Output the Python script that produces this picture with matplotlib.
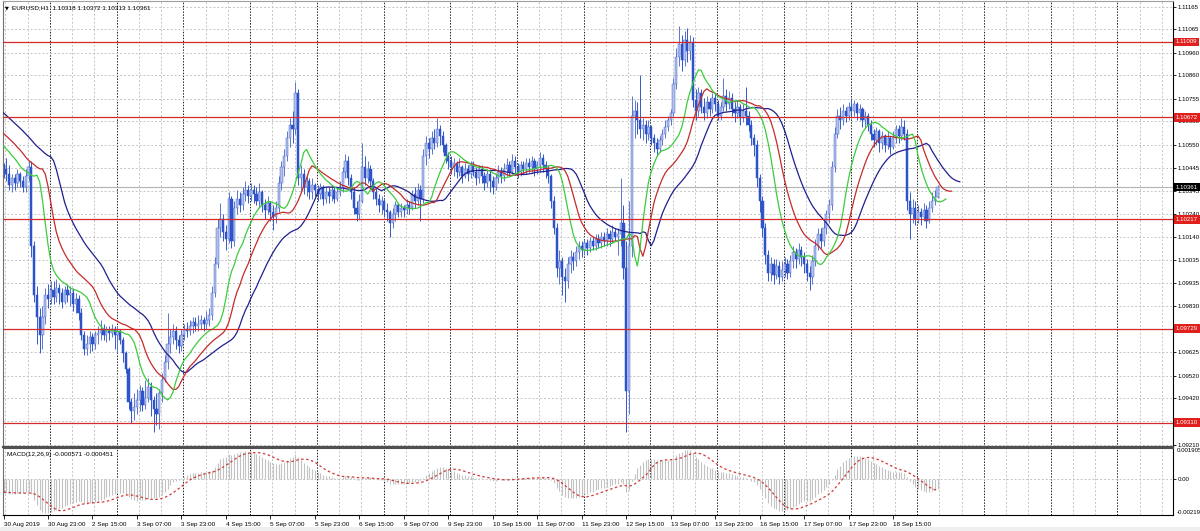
import numpy as np
import pandas as pd
import matplotlib
matplotlib.use('Agg')
import matplotlib.pyplot as plt

plt.rcParams['font.family'] = ['Liberation Sans', 'DejaVu Sans']

# EURUSD H1, 30 Aug 2019 07:00 .. 19 Sep 2019 07:00 (weekends skipped)
close = [
    1.1044, 1.1042, 1.1037, 1.1040, 1.1038, 1.1042, 1.1039, 1.1036, 1.1041, 1.1045,
    1.1010, 1.0988, 1.0978, 1.0970, 1.0978, 1.0988, 1.0986, 1.0990, 1.0987, 1.0991,
    1.0989, 1.0985, 1.0990, 1.0988, 1.0989, 1.0984, 1.0986, 1.0980, 1.0970, 1.0964,
    1.0966, 1.0969, 1.0966, 1.0970, 1.0971, 1.0973, 1.0970, 1.0972, 1.0971, 1.0973,
    1.0970, 1.0972, 1.0968, 1.0962, 1.0955, 1.0940, 1.0936, 1.0938, 1.0941, 1.0945,
    1.0939, 1.0942, 1.0947, 1.0941, 1.0937, 1.0935, 1.0944, 1.0950, 1.0958, 1.0966,
    1.0969, 1.0972, 1.0968, 1.0965, 1.0970, 1.0973, 1.0972, 1.0974, 1.0976, 1.0974,
    1.0975, 1.0977, 1.0975, 1.0977, 1.0979, 1.0989, 1.1002, 1.1018, 1.1022, 1.1016,
    1.1013, 1.1031, 1.1012, 1.1027, 1.1031, 1.1028, 1.1033, 1.1035, 1.1032, 1.1035,
    1.1033, 1.1030, 1.1034, 1.1028, 1.1026, 1.1029, 1.1025, 1.1023, 1.1027, 1.1038,
    1.1045, 1.1050, 1.1058, 1.1064, 1.1062, 1.1078, 1.1040, 1.1042, 1.1036, 1.1039,
    1.1034, 1.1037, 1.1035, 1.1033, 1.1036, 1.1031, 1.1034, 1.1032, 1.1035, 1.1031,
    1.1034, 1.1036, 1.1043, 1.1048, 1.1040, 1.1034, 1.1027, 1.1024, 1.1030, 1.1045,
    1.1040, 1.1044, 1.1039, 1.1034, 1.1031, 1.1028, 1.1030, 1.1026, 1.1025, 1.1020,
    1.1024, 1.1028, 1.1025, 1.1027, 1.1026, 1.1028, 1.1027, 1.1033, 1.1030, 1.1035,
    1.1031, 1.1050, 1.1056, 1.1053, 1.1058, 1.1056, 1.1062, 1.1059, 1.1055, 1.1050,
    1.1048, 1.1045, 1.1047, 1.1043, 1.1045, 1.1041, 1.1044, 1.1042, 1.1046, 1.1043,
    1.1040, 1.1044, 1.1041, 1.1038, 1.1042, 1.1039, 1.1036, 1.1040, 1.1043, 1.1041,
    1.1044, 1.1046, 1.1043, 1.1048, 1.1045, 1.1043, 1.1046, 1.1044, 1.1047, 1.1045,
    1.1048, 1.1044, 1.1046, 1.1049, 1.1046, 1.1044, 1.1041, 1.1030, 1.1018, 1.1000,
    1.1003, 1.0996, 1.0994, 1.1002, 1.1005, 1.1003, 1.1007, 1.1010, 1.1008, 1.1011,
    1.1009, 1.1012, 1.1010, 1.1013, 1.1011, 1.1014, 1.1012, 1.1015, 1.1013, 1.1016,
    1.1014, 1.1015, 1.1020, 1.1000, 1.0945, 1.1010, 1.1068, 1.1070, 1.1066, 1.1062,
    1.1064, 1.1060, 1.1063, 1.1058, 1.1056, 1.1053, 1.1057, 1.1060, 1.1063, 1.1066,
    1.1069, 1.1082, 1.1094, 1.1100, 1.1093, 1.1102, 1.1097, 1.1101, 1.1075, 1.1070,
    1.1078, 1.1072, 1.1069, 1.1074, 1.1071, 1.1076, 1.1073, 1.1068, 1.1072, 1.1077,
    1.1073, 1.1076, 1.1071, 1.1069, 1.1072, 1.1067, 1.1070, 1.1068, 1.1064, 1.1058,
    1.1055, 1.1040, 1.1030, 1.1018, 1.1006, 1.0998, 1.1002, 1.0997, 1.1001, 1.0996,
    1.0999, 1.1002, 1.0998, 1.1003, 1.1007, 1.1004, 1.1008, 1.1005, 1.1002, 1.0998,
    1.0996, 1.1003, 1.1010, 1.1015, 1.1012, 1.1018, 1.1024, 1.1028, 1.1045, 1.1060,
    1.1068, 1.1066, 1.1070, 1.1068, 1.1072, 1.1070, 1.1073, 1.1069, 1.1071, 1.1066,
    1.1068, 1.1064, 1.1060, 1.1057, 1.1061, 1.1056, 1.1059, 1.1055, 1.1058, 1.1054,
    1.1058, 1.1062, 1.1059, 1.1063, 1.1060, 1.1030, 1.1024, 1.1027, 1.1022, 1.1025,
    1.1023, 1.1026, 1.1021, 1.1027, 1.1030, 1.10318, 1.10361,
]
high = [
    1.1047, 1.1049, 1.1046, 1.1042, 1.1042, 1.1044, 1.1043, 1.1041, 1.1044, 1.1048,
    1.1048, 1.1012, 1.0992, 1.0982, 1.0983, 1.0991, 1.0993, 1.0994, 1.0994, 1.0995,
    1.0993, 1.0991, 1.0992, 1.0993, 1.0992, 1.0991, 1.0989, 1.0988, 1.0982, 1.0972,
    1.0970, 1.0972, 1.0971, 1.0972, 1.0974, 1.0977, 1.0975, 1.0974, 1.0974, 1.0975,
    1.0974, 1.0974, 1.0973, 1.0969, 1.0963, 1.0956, 1.0942, 1.0944, 1.0946, 1.0948,
    1.0947, 1.0950, 1.0951, 1.0949, 1.0943, 1.0944, 1.0946, 1.0953, 1.0961, 1.0980,
    1.0973, 1.0975, 1.0974, 1.0970, 1.0973, 1.0975, 1.0976, 1.0977, 1.0978, 1.0978,
    1.0979, 1.0979, 1.0978, 1.0981, 1.0982, 1.0992, 1.1005, 1.1022, 1.1029, 1.1024,
    1.1019, 1.1034, 1.1032, 1.1030, 1.1035, 1.1034, 1.1036, 1.1039, 1.1037, 1.1038,
    1.1037, 1.1036, 1.1038, 1.1035, 1.1031, 1.1032, 1.1030, 1.1028, 1.1030, 1.1041,
    1.1048, 1.1053, 1.1061, 1.1067, 1.1070, 1.1083, 1.1080, 1.1046, 1.1044, 1.1042,
    1.1040, 1.1040, 1.1038, 1.1037, 1.1038, 1.1037, 1.1036, 1.1036, 1.1037, 1.1036,
    1.1036, 1.1039, 1.1045, 1.1051, 1.1050, 1.1042, 1.1036, 1.1030, 1.1033, 1.1056,
    1.1050, 1.1048, 1.1046, 1.1040, 1.1036, 1.1033, 1.1032, 1.1031, 1.1029, 1.1026,
    1.1027, 1.1030, 1.1029, 1.1029, 1.1028, 1.1031, 1.1030, 1.1035, 1.1036, 1.1038,
    1.1037, 1.1053, 1.1059, 1.1058, 1.1061, 1.1062, 1.1067, 1.1064, 1.1061, 1.1056,
    1.1052, 1.1050, 1.1049, 1.1048, 1.1049, 1.1046, 1.1047, 1.1046, 1.1048, 1.1048,
    1.1045, 1.1046, 1.1046, 1.1043, 1.1044, 1.1044, 1.1041, 1.1042, 1.1046, 1.1045,
    1.1047, 1.1049, 1.1048, 1.1051, 1.1050, 1.1047, 1.1048, 1.1048, 1.1049, 1.1049,
    1.1050, 1.1049, 1.1048, 1.1052, 1.1051, 1.1048, 1.1046, 1.1042, 1.1032, 1.1020,
    1.1008, 1.1005, 1.1000, 1.1005, 1.1008, 1.1007, 1.1010, 1.1012, 1.1012, 1.1013,
    1.1013, 1.1014, 1.1014, 1.1015, 1.1015, 1.1016, 1.1016, 1.1018, 1.1017, 1.1019,
    1.1018, 1.1018, 1.1040, 1.1028, 1.1012, 1.1030, 1.1077, 1.1075, 1.1074, 1.1086,
    1.1067, 1.1066, 1.1066, 1.1064, 1.1060, 1.1058, 1.1059, 1.1062, 1.1066, 1.1068,
    1.1071, 1.1085, 1.1098, 1.1108, 1.1104, 1.1106, 1.1107, 1.1104, 1.1103, 1.1080,
    1.1081, 1.1080, 1.1076, 1.1077, 1.1076, 1.1078, 1.1078, 1.1075, 1.1074, 1.1085,
    1.1080, 1.1079, 1.1078, 1.1074, 1.1075, 1.1073, 1.1073, 1.1081, 1.1070, 1.1066,
    1.1060, 1.1057, 1.1042, 1.1032, 1.1020, 1.1008, 1.1005, 1.1004, 1.1004, 1.1003,
    1.1003, 1.1005, 1.1004, 1.1006, 1.1010, 1.1009, 1.1011, 1.1010, 1.1007, 1.1004,
    1.1001, 1.1006, 1.1013, 1.1018, 1.1018, 1.1021, 1.1026, 1.1031, 1.1048, 1.1063,
    1.1071, 1.1072, 1.1073, 1.1072, 1.1074, 1.1076, 1.1075, 1.1074, 1.1073, 1.1072,
    1.1070, 1.1069, 1.1066, 1.1062, 1.1063, 1.1062, 1.1061, 1.1060, 1.1061, 1.1059,
    1.1061, 1.1064, 1.1064, 1.1067, 1.1066, 1.1062, 1.1034, 1.1031, 1.1030, 1.1028,
    1.1027, 1.1029, 1.1028, 1.1030, 1.1034, 1.1035, 1.10372,
]
low = [
    1.1040, 1.1039, 1.1035, 1.1034, 1.1035, 1.1036, 1.1036, 1.1034, 1.1034, 1.1039,
    1.1005, 1.0985, 1.0966, 1.0962, 1.0964, 1.0975, 1.0982, 1.0984, 1.0984, 1.0985,
    1.0984, 1.0982, 1.0984, 1.0985, 1.0983, 1.0981, 1.0980, 1.0977, 1.0968, 1.0961,
    1.0961, 1.0962, 1.0963, 1.0964, 1.0966, 1.0968, 1.0968, 1.0967, 1.0968, 1.0969,
    1.0964, 1.0962, 1.0966, 1.0958, 1.0953, 1.0937, 1.0931, 1.0932, 1.0935, 1.0936,
    1.0936, 1.0937, 1.0940, 1.0934, 1.0927, 1.0930, 1.0928, 1.0940, 1.0949, 1.0955,
    1.0962, 1.0966, 1.0964, 1.0962, 1.0963, 1.0968, 1.0969, 1.0970, 1.0971, 1.0972,
    1.0972, 1.0973, 1.0972, 1.0973, 1.0974, 1.0977, 1.0987, 1.1000, 1.1014, 1.1012,
    1.1008, 1.1011, 1.1009, 1.1010, 1.1024, 1.1025, 1.1026, 1.1030, 1.1029, 1.1030,
    1.1029, 1.1028, 1.1027, 1.1025, 1.1022, 1.1024, 1.1021, 1.1017, 1.1020, 1.1025,
    1.1035, 1.1041, 1.1048, 1.1054, 1.1056, 1.1060, 1.1037, 1.1034, 1.1033, 1.1032,
    1.1031, 1.1031, 1.1032, 1.1030, 1.1031, 1.1028, 1.1029, 1.1029, 1.1030, 1.1029,
    1.1030, 1.1032, 1.1034, 1.1040, 1.1037, 1.1031, 1.1024, 1.1021, 1.1022, 1.1029,
    1.1037, 1.1038, 1.1036, 1.1031, 1.1028, 1.1025, 1.1024, 1.1023, 1.1021, 1.1014,
    1.1018, 1.1021, 1.1023, 1.1023, 1.1023, 1.1024, 1.1024, 1.1026, 1.1027, 1.1028,
    1.1021, 1.1029, 1.1046, 1.1049, 1.1051, 1.1053, 1.1054, 1.1055, 1.1052, 1.1047,
    1.1044, 1.1042, 1.1041, 1.1040, 1.1041, 1.1038, 1.1040, 1.1039, 1.1040, 1.1041,
    1.1037, 1.1038, 1.1038, 1.1035, 1.1036, 1.1034, 1.1033, 1.1035, 1.1038, 1.1038,
    1.1039, 1.1041, 1.1041, 1.1042, 1.1042, 1.1040, 1.1041, 1.1042, 1.1042, 1.1043,
    1.1043, 1.1041, 1.1042, 1.1043, 1.1043, 1.1040, 1.1038, 1.1027, 1.1015, 1.0996,
    1.0993, 1.0988, 1.0985, 1.0991, 1.0998, 1.0999, 1.1001, 1.1004, 1.1005, 1.1006,
    1.1006, 1.1007, 1.1008, 1.1008, 1.1009, 1.1009, 1.1010, 1.1010, 1.1010, 1.1011,
    1.1012, 1.1006, 1.1010, 1.0995, 1.0927, 1.0935, 1.1005, 1.1058, 1.1060, 1.1058,
    1.1057, 1.1056, 1.1057, 1.1055, 1.1052, 1.1050, 1.1052, 1.1055, 1.1058, 1.1061,
    1.1064, 1.1068, 1.1080, 1.1090, 1.1088, 1.1090, 1.1092, 1.1093, 1.1072, 1.1066,
    1.1068, 1.1069, 1.1066, 1.1067, 1.1068, 1.1069, 1.1070, 1.1066, 1.1066, 1.1070,
    1.1070, 1.1071, 1.1068, 1.1065, 1.1067, 1.1064, 1.1065, 1.1064, 1.1061, 1.1055,
    1.1050, 1.1036, 1.1025, 1.1014, 1.1002, 1.0994, 1.0994, 1.0993, 1.0995, 1.0993,
    1.0994, 1.0996, 1.0995, 1.0996, 1.1000, 1.1000, 1.1002, 1.1001, 1.0998, 1.0994,
    1.0990, 1.0993, 1.1001, 1.1008, 1.1009, 1.1010, 1.1015, 1.1020, 1.1026, 1.1043,
    1.1058, 1.1062, 1.1064, 1.1065, 1.1066, 1.1067, 1.1068, 1.1066, 1.1066, 1.1063,
    1.1063, 1.1061, 1.1057, 1.1054, 1.1055, 1.1052, 1.1053, 1.1052, 1.1053, 1.1051,
    1.1053, 1.1056, 1.1056, 1.1057, 1.1057, 1.1026, 1.1013, 1.1020, 1.1019, 1.1020,
    1.1019, 1.1021, 1.1018, 1.1020, 1.1025, 1.1028, 1.10313,
]
first_open = 1.1046

# closes of the bars just left of the window (only feed the indicators)
pre_close = [1.1074, 1.1073, 1.1071, 1.1070, 1.1069, 1.1069, 1.1067, 1.1066,
             1.1064, 1.1064, 1.1062, 1.1061, 1.1060, 1.1058, 1.1058, 1.1057,
             1.1055, 1.1055, 1.1053, 1.1052, 1.1051, 1.1050, 1.1048, 1.1047]
jaw_seed, teeth_seed, lips_seed = 1.1089, 1.1083, 1.1080
ema12_seed, ema26_seed = 1.1081, 1.1089

levels = [1.11009, 1.10672, 1.10217, 1.09729, 1.09310]
last_price = 1.10361
price_ticks = [1.09210, 1.09315, 1.09420, 1.09520, 1.09625, 1.09730, 1.09830,
               1.09935, 1.10035, 1.10140, 1.10240, 1.10345, 1.10445, 1.10550,
               1.10655, 1.10755, 1.10860, 1.10960, 1.11065, 1.11165]
macd_top, macd_bottom = 0.001905, -0.00219
macd_text = 'MACD(12,26,9) -0.000571 -0.000451'

times = pd.date_range('2019-08-30 07:00', '2019-09-19 07:00', freq='h')
times = times[times.dayofweek < 5]

c = np.array(close); h = np.array(high); l = np.array(low)
o = np.r_[first_open, c[:-1]]
x = np.arange(len(c))
up = c >= o


def smma(v, n, s):
    out = np.empty(len(v))
    for k, p in enumerate(v):
        s = (s * (n - 1) + p) / n
        out[k] = s
    return out


def ema(v, n, s):
    a = 2.0 / (n + 1)
    out = np.empty(len(v))
    for k, p in enumerate(v):
        s = s + a * (p - s)
        out[k] = s
    return out


xa = np.arange(-len(pre_close), len(c))
med = np.r_[pre_close, (h + l) / 2]
allc = np.r_[pre_close, c]
jaw = smma(med, 13, jaw_seed)
teeth = smma(med, 8, teeth_seed)
lips = smma(med, 5, lips_seed)
macd = ema(allc, 12, ema12_seed) - ema(allc, 26, ema26_seed)
signal = pd.Series(macd).rolling(9, min_periods=1).mean().values
vis = xa >= 0

W, H = 1200, 531
fig = plt.figure(figsize=(12, 5.31), dpi=100)
ax = fig.add_axes([2.5 / W, 1 - 447 / H, 1170.5 / W, 446 / H])
am = fig.add_axes([2.5 / W, 1 - 515 / H, 1170.5 / W, 67 / H], sharex=ax)

xmin, xmax = -0.36, 420.7
ax.set_xlim(xmin, xmax)
ax.set_ylim(1.092011, 1.11192)
am.set_ylim(macd_bottom, macd_top)

grid = dict(color='#c4c4c4', lw=0.7, ls=(0, (2, 2)), zorder=0)
sep = dict(color='#202020', lw=0.7, ls=(0, (1.5, 1.5)), zorder=0)
k = 0
while 0.7 + 8 * k < xmax:
    gx = 0.7 + 8 * k
    st = sep if (k - 2) % 3 == 0 and k >= 2 else grid
    ax.axvline(gx, **st)
    am.axvline(gx, **st)
    k += 1
for p in price_ticks:
    ax.axhline(p, **grid)
am.axhline(0, **grid)

ax.axhline(last_price, color='#b4b4b4', lw=0.8, zorder=1)

bull, bear = '#b3c1ea', '#2f55cc'
ax.vlines(x[up], l[up], h[up], color='#5a75cf', lw=0.7, zorder=2)
ax.vlines(x[~up], l[~up], h[~up], color='#3358cc', lw=0.7, zorder=2)
body = np.maximum(np.abs(c - o), 0.00003)
bot = np.minimum(o, c)
ax.bar(x[up], body[up], bottom=bot[up], width=0.8, color=bull,
       edgecolor='#4a68cc', lw=0.35, zorder=2)
ax.bar(x[~up], body[~up], bottom=bot[~up], width=0.8, color=bear,
       edgecolor='#2a4fc4', lw=0.35, zorder=2)

ax.plot(xa + 8, jaw, color='#1f1f8f', lw=0.9, zorder=3)
ax.plot(xa + 5, teeth, color='#c42b2b', lw=0.9, zorder=3)
ax.plot(xa + 3, lips, color='#3ccc3c', lw=0.9, zorder=3)

for lv in levels:
    ax.axhline(lv, color='#d42a2a', lw=0.9, zorder=4)

am.vlines(xa[vis], 0, macd[vis], color='#c2c2c2', lw=0.8, zorder=2)
am.plot(xa[vis], signal[vis], color='#d03a3a', lw=0.9, ls=(0, (2, 2)), zorder=3)

fs = 4.6
for a in (ax, am):
    a.yaxis.tick_right()
    a.tick_params(axis='y', length=2, width=0.6, labelsize=4.4, pad=1.2, colors='black')
    for s in a.spines.values():
        s.set_linewidth(0.8)
    a.spines['right'].set_color('black')
ax.spines['left'].set_color('#707070')
ax.spines['top'].set_color('#a0a0a0')
ax.spines['bottom'].set_color('#505050')
ax.spines['bottom'].set_linewidth(1.6)
am.spines['top'].set_color('#505050')
am.spines['left'].set_color('#707070')
am.spines['bottom'].set_color('black')

ax.set_yticks(price_ticks)
ax.set_yticklabels([f'{p:.5f}' for p in price_ticks])
ax.tick_params(axis='x', bottom=False, labelbottom=False)

am.set_yticks([0])
am.set_yticklabels(['0.00'])
ytr = am.get_yaxis_transform()
am.text(1.003, macd_top, f'{macd_top:.6f}', transform=ytr, fontsize=4.4,
        va='top', ha='left', clip_on=False)
am.text(1.003, macd_bottom, f'{macd_bottom:.5f}', transform=ytr, fontsize=4.4,
        va='bottom', ha='left', clip_on=False)

# time labels every 16 bars; MT4 leaves the last partial block unlabelled
lab_idx = np.arange(0, len(c) - 16, 16)
labels = [f'{times[i].day} {times[i]:%b} {times[i]:%H:%M}' for i in lab_idx]
labels[0] = f'{times[0].day} {times[0]:%b %Y}'
am.set_xticks(lab_idx)
am.set_xticklabels(labels)
am.tick_params(axis='x', length=3, width=0.6, labelsize=fs, pad=2)
for t in am.get_xticklabels():
    t.set_ha('left')

tr = ax.get_yaxis_transform()
for lv in levels:
    ax.text(1.0022, lv, f'{lv:.5f}', transform=tr, fontsize=4.4, color='white',
            va='center', ha='left', zorder=10, clip_on=False,
            bbox=dict(boxstyle='square,pad=0.3', fc='#e0201c', ec='none'))
ax.text(1.0022, last_price, f'{last_price:.5f}', transform=tr, fontsize=4.4,
        color='white', va='center', ha='left', zorder=10, clip_on=False,
        bbox=dict(boxstyle='square,pad=0.3', fc='black', ec='none'))

ax.text(0.002, 1 - 7 / 446, '\u25bc', transform=ax.transAxes, fontsize=3.5,
        va='center', ha='left', family='DejaVu Sans')
ax.text(0.0085, 1 - 7 / 446,
        f'EURUSD,H1  {o[-1]:.5f} {h[-1]:.5f} {l[-1]:.5f} {c[-1]:.5f}',
        transform=ax.transAxes, fontsize=fs, va='center', ha='left')
am.text(0.004, 0.9, macd_text, transform=am.transAxes, fontsize=fs,
        va='center', ha='left')

fig.patches.append(plt.Rectangle((0, 0), 1, 4 / H, transform=fig.transFigure,
                                 fc='#efefef', ec='none', zorder=-1))

fig.savefig('out.png', dpi=100)
